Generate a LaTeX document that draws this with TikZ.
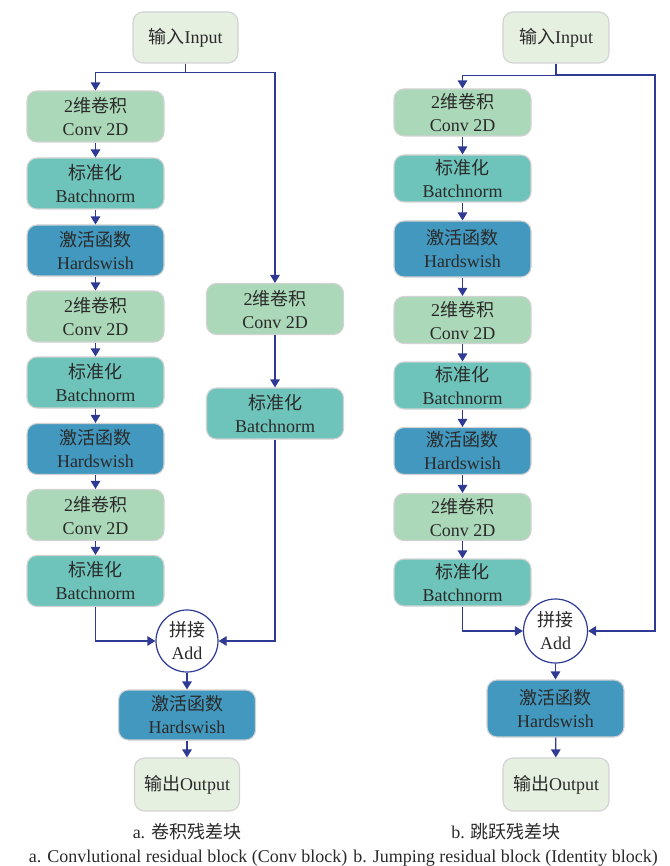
\documentclass[tikz,border=0pt]{standalone}
\usepackage{fontspec}
\setmainfont{Liberation Serif}
\newfontfamily\cjk{Noto Sans CJK SC}
\usetikzlibrary{arrows.meta}
\newcommand{\zh}[1]{{\cjk #1}}
\definecolor{iofill}{HTML}{E6F0E0}
\definecolor{convfill}{HTML}{AAD8B8}
\definecolor{bnfill}{HTML}{6EC4BA}
\definecolor{actfill}{HTML}{4298BE}
\definecolor{boxline}{HTML}{D2D2D2}
\definecolor{arrcol}{HTML}{2E3A94}
\definecolor{txt}{HTML}{2A2A2A}
\begin{document}
\begin{tikzpicture}[x=1pt, y=-1pt, >={Triangle[length=8pt,width=9.5pt]},
  box/.style={draw=boxline, line width=1.1pt, rounded corners=10pt, align=center,
    text=txt, inner sep=0pt, font=\fontsize{18}{23}\selectfont},
  io/.style={box, fill=iofill, minimum width=105pt, minimum height=51pt},
  conv/.style={box, fill=convfill, minimum width=137pt, minimum height=51pt},
  bn/.style={box, fill=bnfill, minimum width=137pt, minimum height=51pt},
  act/.style={box, fill=actfill, minimum width=137pt, minimum height=51pt},
  sum/.style={circle, draw=arrcol, line width=1.2pt, fill=white, text=txt,
    minimum size=62pt, inner sep=0pt, align=center, font=\fontsize{18}{23}\selectfont},
  flow/.style={->, draw=arrcol, line width=1.2pt},
  captext/.style={anchor=base, text=txt, font=\fontsize{18}{22}\selectfont}]
\useasboundingbox (0,0) rectangle (669,866);

% a. conv block
\node[io] (inA) at (185.5,37.5) {\zh{输入}Input};
\node[conv] (a1) at (95.5,116.5) {2\zh{维卷积}\\Conv 2D};
\node[bn] (a2) at (95.5,183.5) {\zh{标准化}\\Batchnorm};
\node[act] (a3) at (95.5,250.5) {\zh{激活函数}\\Hardswish};
\node[conv] (a4) at (95.5,316.5) {2\zh{维卷积}\\Conv 2D};
\node[bn] (a5) at (95.5,382.5) {\zh{标准化}\\Batchnorm};
\node[act] (a6) at (95.5,449) {\zh{激活函数}\\Hardswish};
\node[conv] (a7) at (95.5,515) {2\zh{维卷积}\\Conv 2D};
\node[bn] (a8) at (95.5,581) {\zh{标准化}\\Batchnorm};
\node[conv] (ra1) at (275,309) {2\zh{维卷积}\\Conv 2D};
\node[bn] (ra2) at (275,413.5) {\zh{标准化}\\Batchnorm};
\node[sum] (addA) at (187,641) {\zh{拼接}\\Add};
\node[act, minimum height=50pt] (outactA) at (187,715) {\zh{激活函数}\\Hardswish};
\node[io, minimum height=53pt] (outA) at (187,784.5) {\zh{输出}Output};

\draw[flow] (inA.south) -- ++(0,9) -| (a1.north);
\draw[flow] (inA.south) -- ++(0,9) -| (ra1.north);
\foreach \p/\q in {a1/a2,a2/a3,a3/a4,a4/a5,a5/a6,a6/a7,a7/a8,ra1/ra2,addA/outactA,outactA/outA}
  \draw[flow] (\p) -- (\q);
\draw[flow] (a8.south) |- (addA.west);
\draw[flow] (ra2.south) |- (addA.east);

\node[captext] (capA1) at (187,838) {a. \zh{卷积残差块}};
\node[captext] (capA2) at (188,862) {a. Convlutional residual block (Conv block)};

% b. identity block
\node[io, minimum width=106pt] (inB) at (556,37.5) {\zh{输入}Input};
\node[conv, minimum height=47pt] (b1) at (462.5,112.5) {2\zh{维卷积}\\Conv 2D};
\node[bn, minimum height=47pt] (b2) at (462.5,178.5) {\zh{标准化}\\Batchnorm};
\node[act, minimum height=56pt] (b3) at (462.5,249) {\zh{激活函数}\\Hardswish};
\node[conv, minimum height=47pt] (b4) at (462.5,320) {2\zh{维卷积}\\Conv 2D};
\node[bn, minimum height=47pt] (b5) at (462.5,385.5) {\zh{标准化}\\Batchnorm};
\node[act, minimum height=47pt] (b6) at (462.5,451) {\zh{激活函数}\\Hardswish};
\node[conv, minimum height=47pt] (b7) at (462.5,517) {2\zh{维卷积}\\Conv 2D};
\node[bn, minimum height=47pt] (b8) at (462.5,582.5) {\zh{标准化}\\Batchnorm};
\node[sum, minimum size=64pt] (addB) at (555.5,631) {\zh{拼接}\\Add};
\node[act, minimum height=57pt] (outactB) at (555.5,708.5) {\zh{激活函数}\\Hardswish};
\node[io, minimum width=106pt, minimum height=53pt] (outB) at (556,784.5) {\zh{输出}Output};
\coordinate (skipB) at (655,75);

\draw[flow] (inB.south) -- ++(0,12) -| (b1.north);
\draw[flow] (inB.south) |- (skipB) |- (addB.east);
\foreach \p/\q in {b1/b2,b2/b3,b3/b4,b4/b5,b5/b6,b6/b7,b7/b8,addB/outactB,outactB/outB}
  \draw[flow] (\p) -- (\q);
\draw[flow] (b8.south) |- (addB.west);

\node[captext] (capB1) at (506,838) {b. \zh{跳跃残差块}};
\node[captext] (capB2) at (505.5,862) {b. Jumping residual block (Identity block)};
\end{tikzpicture}
\end{document}
